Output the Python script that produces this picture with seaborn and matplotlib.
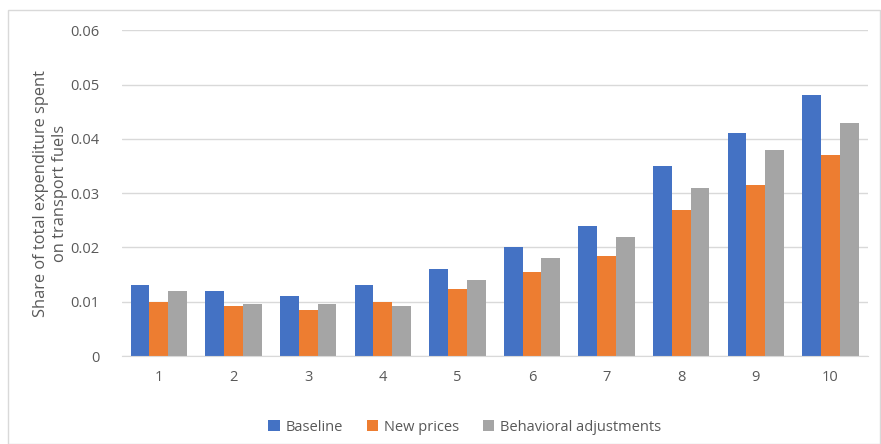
import matplotlib
matplotlib.use("Agg")
import matplotlib.pyplot as plt
import seaborn as sns
import pandas as pd
from matplotlib.patches import Rectangle

deciles = ["1", "2", "3", "4", "5", "6", "7", "8", "9", "10"]
baseline = [0.013, 0.012, 0.011, 0.013, 0.016, 0.020, 0.024, 0.035, 0.041, 0.048]
new_prices = [0.010, 0.0093, 0.0085, 0.010, 0.0123, 0.0154, 0.0185, 0.0269, 0.0315, 0.037]
behavioral = [0.012, 0.0095, 0.0095, 0.0092, 0.014, 0.018, 0.022, 0.031, 0.038, 0.043]
series_names = ["Baseline", "New prices", "Behavioral adjustments"]
colors = ["#4472C4", "#ED7D31", "#A5A5A5"]

df = pd.DataFrame({
    "decile": deciles * 3,
    "share": baseline + new_prices + behavioral,
    "series": [series_names[0]] * 10 + [series_names[1]] * 10 + [series_names[2]] * 10,
})

sns.set_style("white")
plt.rcParams["font.family"] = ["Open Sans", "DejaVu Sans"]

fig = plt.figure(figsize=(8.81, 4.44), dpi=100)
ax = fig.add_axes([0.138, 0.198, 0.847, 0.734])

sns.barplot(data=df, x="decile", y="share", hue="series", order=deciles,
            hue_order=series_names, palette=colors, width=0.755, gap=0,
            saturation=1, linewidth=0, ax=ax, legend=True)

ax.set_ylim(0, 0.06)
ax.set_yticks([0, 0.01, 0.02, 0.03, 0.04, 0.05, 0.06])
ax.set_yticklabels(["0", "0.01", "0.02", "0.03", "0.04", "0.05", "0.06"])
ax.yaxis.grid(True, color="#D9D9D9", linewidth=1)
ax.set_axisbelow(True)
for s in ["top", "right", "left"]:
    ax.spines[s].set_visible(False)
ax.spines["bottom"].set_color("#D9D9D9")
ax.tick_params(axis="both", colors="#595959", labelsize=10.5, length=0)
ax.tick_params(axis="y", pad=16)
ax.tick_params(axis="x", pad=10)
ax.set_xlabel("")
ax.set_ylabel("")

# two-line axis title, each line centred on the plot height
label_lines = ["Share of total expenditure spent", "on transport fuels"]
for xpos, line in zip([0.046, 0.068], label_lines):
    fig.text(xpos, 0.565, line, rotation=90, ha="center", va="center",
             color="#595959", fontsize=11.8)

leg = ax.legend(loc="upper center", bbox_to_anchor=(0.46, -0.155), ncol=3,
                frameon=False, fontsize=10.5, handlelength=0.8, handleheight=0.8,
                columnspacing=1.6, handletextpad=0.4)
for t in leg.get_texts():
    t.set_color("#595959")

fig.patches.append(Rectangle((0.009, 0.0), 0.99, 0.977, transform=fig.transFigure,
                             fill=False, edgecolor="#D9D9D9", linewidth=1))

fig.savefig("out.png", dpi=100)
